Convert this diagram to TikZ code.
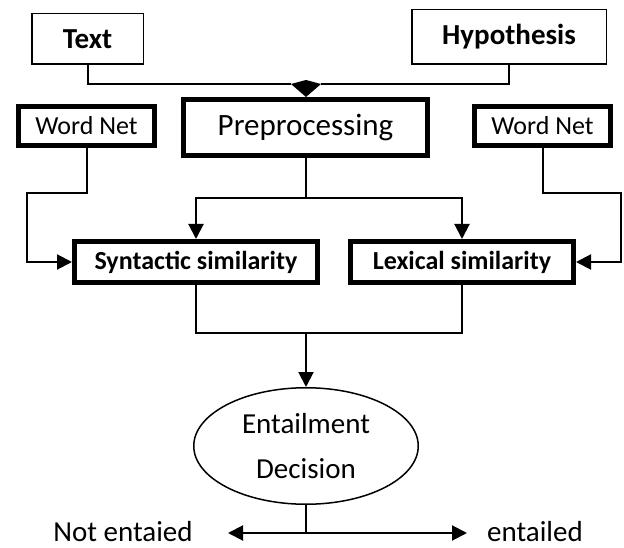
\documentclass[tikz,border=0pt]{standalone}
\usepackage{fontspec}
\setmainfont{Carlito}
\usetikzlibrary{arrows.meta,shapes.geometric}
\begin{document}
\begin{tikzpicture}[x=1pt,y=-1pt,
  inputbox/.style={draw,line width=1.5pt,inner sep=0pt,
    font=\fontsize{29}{34}\selectfont\bfseries},
  heavybox/.style={draw,line width=5pt,inner sep=0pt},
  link/.style={line width=2pt},
  tip/.tip={Triangle[length=15pt,width=15pt]},
  arrowlink/.style={link,-tip},
  outlabel/.style={inner sep=0pt,anchor=base,text depth=0pt,
    font=\fontsize{29}{34}\selectfont}
]
\useasboundingbox (0,0) rectangle (624,548);

% inputs
\node[inputbox,minimum width=111.5pt,minimum height=50.5pt] (txt) at (87.5,39) {Text};
\node[inputbox,minimum width=194.5pt,minimum height=54.5pt] (hyp) at (509,37) {Hypothesis};

% preprocessing and lexical resources
\node[heavybox,minimum width=244pt,minimum height=56pt,
  font=\fontsize{31}{36}\selectfont] (pre) at (305.5,127.5) {Preprocessing};
\node[heavybox,minimum width=136pt,minimum height=39pt,
  font=\fontsize{26}{30}\selectfont] (wnl) at (86.5,126) {Word Net};
\node[heavybox,minimum width=136pt,minimum height=39pt,
  font=\fontsize{26}{30}\selectfont] (wnr) at (542.5,126) {Word Net};

% similarity modules
\node[heavybox,minimum width=243pt,minimum height=41pt,
  font=\fontsize{26}{30}\selectfont\bfseries] (syn) at (196,262) {Syntactic similarity};
\node[heavybox,minimum width=223pt,minimum height=41pt,
  font=\fontsize{26}{30}\selectfont\bfseries] (lex) at (462,262) {Lexical similarity};

% decision
\node[ellipse,draw,line width=1.5pt,inner sep=0pt,minimum width=224.5pt,
  minimum height=116.5pt,align=center,
  font=\fontsize{29}{44}\selectfont] (dec) at (306,446) {Entailment\\[1pt]Decision};

% outcomes
\node[outlabel] (neg) at (123,541) {Not entaied};
\node[outlabel] (pos) at (535,541) {entailed};

% junction points
\coordinate (dl) at (291,84);
\coordinate (dr) at (321,84);
\coordinate (dt) at (306,80);
\coordinate (db) at (306,97);
\coordinate (pb) at (305.5,198);
\coordinate (wl) at (27,262);
\coordinate (wlb) at (86.5,193);
\coordinate (wr) at (621,262);
\coordinate (wrb) at (542.5,193);
\coordinate (mj) at (306,333);
\coordinate (ol) at (228,533);
\coordinate (or) at (467,533);

% merging the two inputs
\draw[link] (txt.south) |- (dl);
\draw[link] (hyp.south) |- (dr);
\fill (dl) -- (dt) -- (dr) -- (db) -- cycle;

% preprocessing feeds both modules
\draw[link] (pre.south) -- (pb);
\draw[arrowlink] (pb) -| (syn.north);
\draw[arrowlink] (pb) -| (lex.north);

% Word Net feeds
\draw[arrowlink] (wnl.south) -- (wlb) -| (wl) -- (syn.west);
\draw[arrowlink] (wnr.south) -- (wrb) -| (wr) -- (lex.east);

% modules to decision
\draw[link] (syn.south) |- (mj) -| (lex.south);
\draw[arrowlink] (mj) -- (dec.north);

% decision outcomes
\draw[link] (dec.south) -- (dec.south |- ol);
\draw[link,tip-tip] (ol) -- (or);
\end{tikzpicture}
\end{document}
